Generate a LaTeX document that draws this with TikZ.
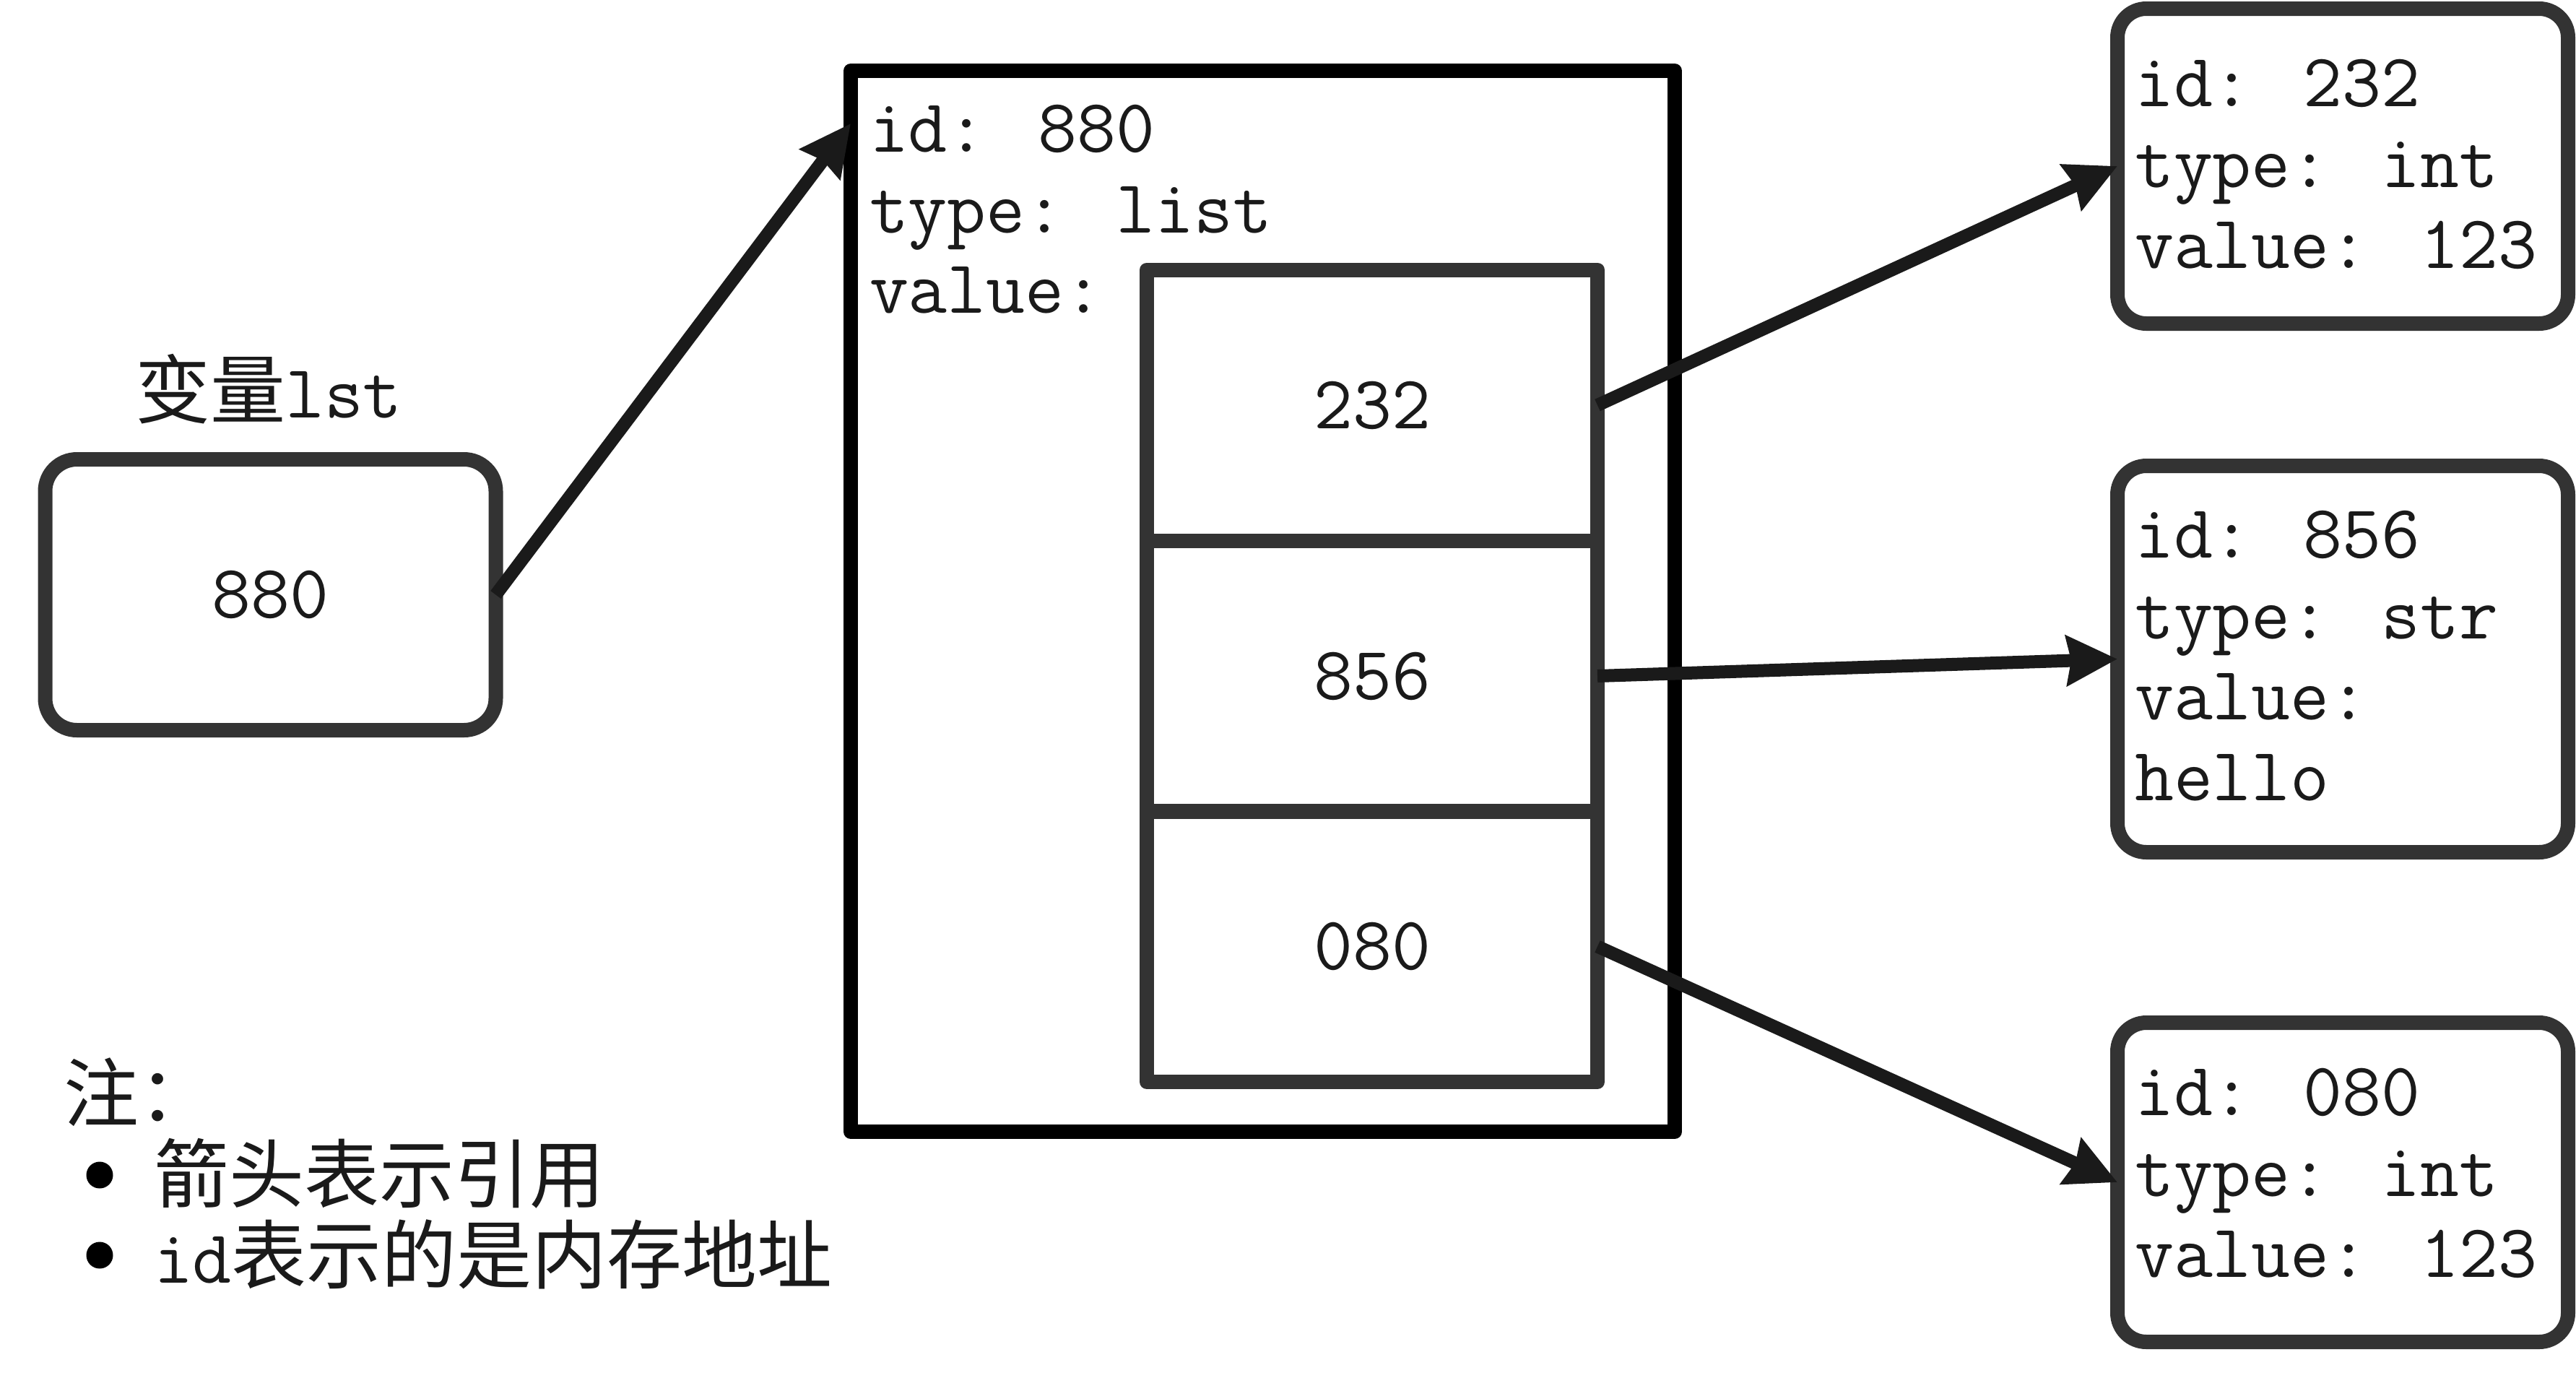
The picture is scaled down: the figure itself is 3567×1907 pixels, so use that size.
\documentclass[tikz,border=0pt]{standalone}
\usepackage{fontspec}
\newfontfamily\cjk{Noto Sans CJK SC}
\usetikzlibrary{arrows.meta}
\definecolor{boxgray}{HTML}{333333}
\definecolor{ink}{HTML}{1A1A1A}
\tikzset{
  every node/.style={inner sep=0pt, outer sep=0pt, text=ink},
  txt/.style={font=\ttfamily\fontsize{26.2}{30}\selectfont},
  cjkfont/.style={font=\cjk\fontsize{26}{30}\selectfont},
  rbox/.style={draw=boxgray, line width=5pt, rounded corners=10pt, minimum width=156pt},
  cell/.style={draw=boxgray, line width=5pt, line join=round, minimum width=156pt, minimum height=93.75pt, txt},
  outerbox/.style={draw=black, line width=5pt, line join=round, minimum width=285.25pt, minimum height=367.25pt},
  ref/.style={draw=ink, line width=4.5pt, -{Stealth[length=17.5pt, width=17pt, inset=1.5pt]}},
  bullet/.style={circle, fill=black, minimum size=9.25pt},
}
\begin{document}
\begin{tikzpicture}[x=0.25pt, y=-0.25pt]
\useasboundingbox (0,0) rectangle (3567,1907);

% left variable box
\node[rbox, rounded corners=11pt, minimum height=93.75pt, txt] (v880) at (374.5,823.5) {880};
\node[anchor=base, txt] (vlabel) at (372,578) {{\cjk\fontsize{26}{30}\selectfont 变量}lst};

% list object
\node[outerbox] (outer) at (1748.5,832.5) {};
\node[anchor=base west, txt] (oid) at (1204,210) {id: 880};
\node[anchor=base west, txt] (otype) at (1204,322) {type: list};
\node[anchor=base west, txt] (oval) at (1204,433) {value:};
\coordinate (lstin) at (1178,171);

\node[cell] (c1) at (1900,561) {232};
\node[cell] (c2) at (1900,936) {856};
\node[cell] (c3) at (1900,1310.5) {080};

% right objects
\node[rbox, minimum height=109pt] (o1) at (3244,230) {};
\node[anchor=base west, txt] (o1a) at (2956,147) {id: 232};
\node[anchor=base west, txt] (o1b) at (2956,259) {type: int};
\node[anchor=base west, txt] (o1c) at (2956,371) {value: 123};

\node[rbox, minimum height=133.75pt] (o2) at (3244,912.5) {};
\node[anchor=base west, txt] (o2a) at (2956,772) {id: 856};
\node[anchor=base west, txt] (o2b) at (2956,884) {type: str};
\node[anchor=base west, txt] (o2c) at (2956,996) {value:};
\node[anchor=base west, txt] (o2d) at (2956,1108) {hello};

\node[rbox, minimum height=110.5pt] (o3) at (3244,1637) {};
\node[anchor=base west, txt] (o3a) at (2956,1544) {id: 080};
\node[anchor=base west, txt] (o3b) at (2956,1656) {type: int};
\node[anchor=base west, txt] (o3c) at (2956,1768) {value: 123};

% references
\draw[ref] (v880.east) -- (lstin);
\draw[ref] (c1.east) -- (o1.west);
\draw[ref] (c2.east) -- (o2.west);
\draw[ref] (c3.east) -- (o3.west);

% note
\node[anchor=base west, cjkfont] (note) at (88,1552) {注：};
\node[bullet] (b1) at (138,1627) {};
\node[bullet] (b2) at (138,1738) {};
\node[anchor=base west, cjkfont] (n1) at (213,1664) {箭头表示引用};
\node[anchor=base west, txt] (n2) at (213,1776) {id{\cjk\fontsize{26}{30}\selectfont 表示的是内存地址}};
\end{tikzpicture}
\end{document}
